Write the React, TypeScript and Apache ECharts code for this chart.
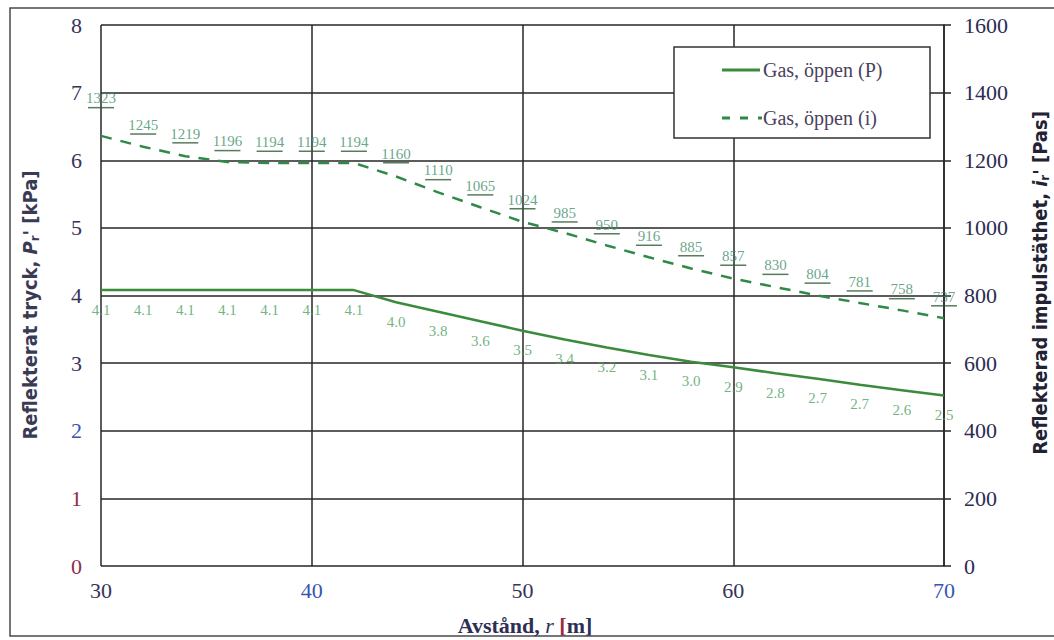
import React, { useEffect, useRef } from "react";
import * as echarts from "echarts";

const distance = [30, 32, 34, 36, 38, 40, 42, 44, 46, 48, 50, 52, 54, 56, 58, 60, 62, 64, 66, 68, 70];
const pressureLine = [4.08, 4.08, 4.08, 4.08, 4.08, 4.08, 4.08, 3.9, 3.76, 3.62, 3.48, 3.35, 3.23, 3.12, 3.02, 2.94, 2.85, 2.77, 2.68, 2.6, 2.52];
const pressureLabels = [4.1, 4.1, 4.1, 4.1, 4.1, 4.1, 4.1, 4.0, 3.8, 3.6, 3.5, 3.4, 3.2, 3.1, 3.0, 2.9, 2.8, 2.7, 2.7, 2.6, 2.5];
const impulseLine = [1272, 1240, 1212, 1195, 1192, 1192, 1192, 1152, 1105, 1061, 1018, 985, 948, 913, 880, 850, 825, 800, 778, 756, 733];
const impulseLabels = [1323, 1245, 1219, 1196, 1194, 1194, 1194, 1160, 1110, 1065, 1024, 985, 950, 916, 885, 857, 830, 804, 781, 758, 737];

const leftTickStyle: Record<string, string> = { "0": "m", "1": "m", "2": "b" };
const xTickStyle: Record<string, string> = { "40": "b", "70": "b" };

const SERIF = "Liberation Serif";
const NARROW = "DejaVu Sans Condensed";
const TICK = 22;

const tickRich = {
  d: { fontFamily: SERIF, fontSize: TICK, color: "#35345a" },
  b: { fontFamily: SERIF, fontSize: TICK, color: "#3656b0" },
  m: { fontFamily: SERIF, fontSize: TICK, color: "#8a2e4c" },
  n: { fontFamily: SERIF, fontSize: TICK, color: "#2c2c52" },
};

export default function App() {
  const ref = useRef<HTMLDivElement>(null);
  useEffect(() => {
    if (!ref.current) return;
    const chart = echarts.init(ref.current, null, { renderer: "svg" });
    const gridColor = "#262626";
    chart.setOption({
      animation: false,
      backgroundColor: "#ffffff",
      textStyle: { fontFamily: SERIF },
      grid: { left: 101, right: 110, top: 25, bottom: 74 },
      xAxis: {
        type: "value",
        min: 30,
        max: 70,
        interval: 10,
        axisLine: { show: false },
        axisTick: { show: false },
        splitLine: { show: true, lineStyle: { color: gridColor, width: 1.5 } },
        axisLabel: {
          margin: 13,
          formatter: (v: number) => `{${xTickStyle[String(v)] || "d"}|${v}}`,
          rich: tickRich,
        },
      },
      yAxis: [
        {
          type: "value",
          min: 0,
          max: 8,
          interval: 1,
          axisLine: { show: false },
          axisTick: { show: false },
          splitLine: { show: true, lineStyle: { color: gridColor, width: 1.5 } },
          axisLabel: {
            margin: 19,
            formatter: (v: number) => `{${leftTickStyle[String(v)] || "d"}|${v}}`,
            rich: tickRich,
          },
        },
        {
          type: "value",
          min: 0,
          max: 1600,
          interval: 200,
          position: "right",
          axisLine: { show: true, lineStyle: { color: gridColor, width: 1.5 } },
          axisTick: { show: true, inside: false, length: 7, lineStyle: { color: gridColor, width: 1.5 } },
          splitLine: { show: false },
          axisLabel: {
            margin: 20,
            formatter: (v: number) => `{n|${v}}`,
            rich: tickRich,
          },
        },
      ],
      series: [
        {
          name: "Gas, öppen (P)",
          type: "line",
          yAxisIndex: 0,
          data: distance.map((x, i) => [x, pressureLine[i]]),
          symbol: "none",
          lineStyle: { color: "#3b8b3d", width: 2.5 },
          z: 3,
        },
        {
          name: "Gas, öppen (i)",
          type: "line",
          yAxisIndex: 1,
          data: distance.map((x, i) => [x, impulseLine[i]]),
          symbol: "none",
          lineStyle: { color: "#2f8a47", width: 2.5, type: [11, 9] },
          z: 3,
        },
        {
          name: "P labels",
          type: "scatter",
          yAxisIndex: 0,
          data: distance.map((x, i) => [x, pressureLine[i]]),
          symbolSize: 0,
          label: {
            show: true,
            position: "bottom",
            distance: 12,
            formatter: (p: any) => pressureLabels[p.dataIndex].toFixed(1),
            fontFamily: SERIF,
            fontSize: 15,
            color: "#4d9e62",
          },
          z: 4,
        },
        {
          name: "i labels",
          type: "scatter",
          yAxisIndex: 1,
          data: distance.map((x, i) => [x, impulseLabels[i]]),
          symbol: "rect",
          symbolSize: [26, 1.5],
          symbolOffset: [0, -11],
          itemStyle: { color: "#2d5a32" },
          label: {
            show: true,
            position: "top",
            distance: 1,
            formatter: (p: any) => String(impulseLabels[p.dataIndex]),
            fontFamily: SERIF,
            fontSize: 15,
            color: "#3f8f6c",
          },
          z: 4,
        },
      ],
      graphic: [
        {
          type: "rect",
          shape: { x: 10, y: 8, width: 1100, height: 628 },
          style: { fill: "none", stroke: "#4a4a4a", lineWidth: 1.5 },
          silent: true,
        },
        {
          type: "rect",
          shape: { x: 674, y: 47, width: 256, height: 91 },
          style: { fill: "#ffffff", stroke: "#333333", lineWidth: 1.5 },
          z: 10,
        },
        {
          type: "line",
          shape: { x1: 722, y1: 70, x2: 760, y2: 70 },
          style: { stroke: "#3b8b3d", lineWidth: 3 },
          z: 11,
        },
        {
          type: "text",
          x: 763,
          y: 70,
          style: {
            text: "{g|Gas, öppen (P)}",
            verticalAlign: "middle",
            rich: { g: { fontSize: 20, fontFamily: SERIF, fill: "#4b3f5e" } },
          },
          z: 11,
        },
        {
          type: "line",
          shape: { x1: 722, y1: 118, x2: 762, y2: 118 },
          style: { stroke: "#2f8a47", lineWidth: 3, lineDash: [8, 10] },
          z: 11,
        },
        {
          type: "text",
          x: 763,
          y: 118,
          style: {
            text: "{g|Gas, öppen (i)}",
            verticalAlign: "middle",
            rich: { g: { fontSize: 20, fontFamily: SERIF, fill: "#4b3f5e" } },
          },
          z: 11,
        },
        {
          type: "text",
          x: 30,
          y: 305,
          rotation: Math.PI / 2,
          style: {
            text: "{n|Reflekterat tryck, }{it|P}{sub|r}{n|' [kPa]}",
            align: "center",
            verticalAlign: "middle",
            rich: {
              n: { fontWeight: "bold", fontSize: 20, fontFamily: NARROW, fill: "#3a3a55" },
              it: { fontStyle: "italic", fontWeight: "bold", fontSize: 20, fontFamily: NARROW, fill: "#3a3a55" },
              sub: { fontWeight: "bold", fontSize: 13, fontFamily: NARROW, fill: "#3a3a55", padding: [9, 0, 0, 0] },
            },
          },
        },
        {
          type: "text",
          x: 1040,
          y: 283,
          rotation: Math.PI / 2,
          style: {
            text: "{n|Reflekterad impulstäthet, }{it|i}{sub|r}{n|' [Pas]}",
            align: "center",
            verticalAlign: "middle",
            rich: {
              n: { fontWeight: "bold", fontSize: 20, fontFamily: NARROW, fill: "#222233" },
              it: { fontStyle: "italic", fontWeight: "bold", fontSize: 20, fontFamily: NARROW, fill: "#222233" },
              sub: { fontWeight: "bold", fontSize: 13, fontFamily: NARROW, fill: "#222233", padding: [9, 0, 0, 0] },
            },
          },
        },
        {
          type: "text",
          x: 525,
          y: 625,
          style: {
            text: "{n|Avstånd, }{it|r}{n| }{red|[}{n|m]}",
            align: "center",
            verticalAlign: "middle",
            rich: {
              n: { fontWeight: "bold", fontSize: 22, fontFamily: SERIF, fill: "#2f2f55" },
              it: { fontStyle: "italic", fontSize: 22, fontFamily: SERIF, fill: "#2f2f55" },
              red: { fontWeight: "bold", fontSize: 22, fontFamily: SERIF, fill: "#9a2a44" },
            },
          },
        },
      ],
    });
    return () => chart.dispose();
  }, []);
  return (
    <div
      ref={ref}
      style={{ position: "fixed", left: 0, top: 0, width: 1054, height: 640 }}
    />
  );
}
